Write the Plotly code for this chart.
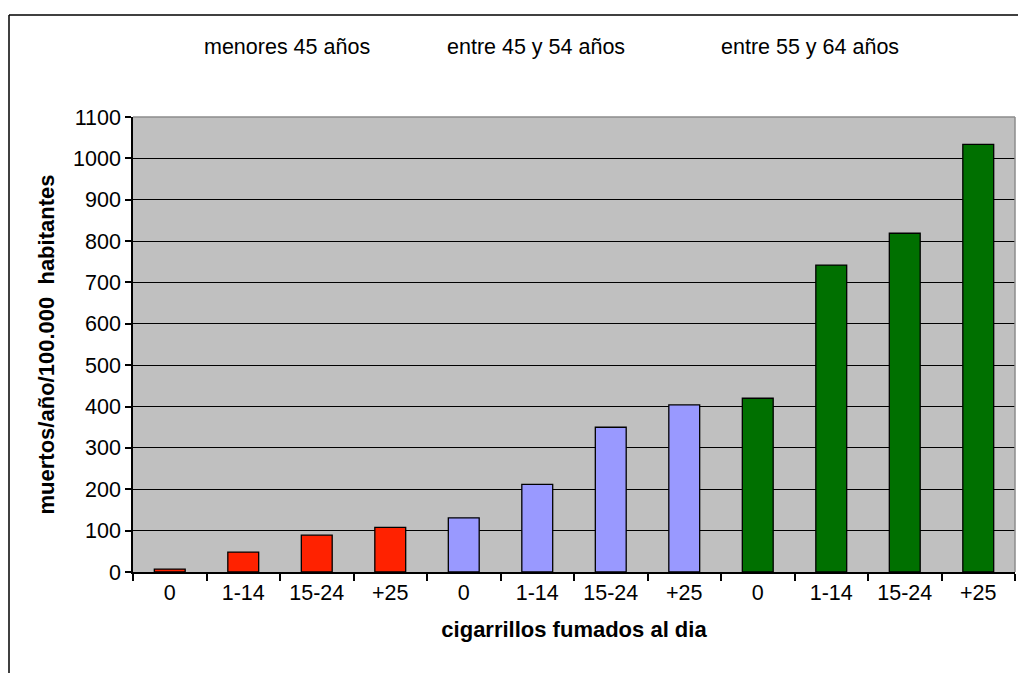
import plotly.graph_objects as go

categories = ["0", "1-14", "15-24", "+25", "0", "1-14", "15-24", "+25", "0", "1-14", "15-24", "+25"]
menores45 = [7, 48, 89, 108]
entre45_54 = [131, 212, 350, 404]
entre55_64 = [420, 742, 819, 1034]
group_labels = ["menores 45 años", "entre 45 y 54 años", "entre 55 y 64 años"]
y_ticks = list(range(0, 1101, 100))

W, H = 1018, 673
L, R, T, B = 133, 3, 117, 101
pw, ph = W - L - R, H - T - B

def px_x(x):
    return (x - L) / pw

def px_y(y):
    return (H - B - y) / ph

values = menores45 + entre45_54 + entre55_64
colors = ["#FF2200"] * 4 + ["#9999FF"] * 4 + ["#007000"] * 4
xpos = list(range(len(categories)))

fig = go.Figure()
fig.add_trace(go.Bar(
    x=xpos, y=values,
    marker=dict(color=colors, line=dict(color="#000000", width=1.3)),
    width=0.42, showlegend=False,
))

font = "Liberation Sans, Arial, sans-serif"
fs = 21.5
fsb = 22
fig.update_layout(
    width=W, height=H,
    margin=dict(l=L, r=R, t=T, b=B, pad=0),
    paper_bgcolor="white", plot_bgcolor="#C0C0C0",
    font=dict(family=font, size=fs, color="#000000"),
    xaxis=dict(
        range=[-0.5, 11.5], tickmode="array", tickvals=xpos, ticktext=categories,
        ticks="", showgrid=False, zeroline=False,
        showline=True, linecolor="#000000", linewidth=1.5,
        tickfont=dict(size=fs),
        minor=dict(tickmode="array", tickvals=[i - 0.5 for i in range(13)],
                   ticks="outside", ticklen=7, tickwidth=1.5, tickcolor="#000000", showgrid=False),
        title=dict(text="<b>cigarrillos fumados al dia</b>", font=dict(size=fsb), standoff=18),
    ),
    yaxis=dict(
        range=[0, 1100], tickmode="array", tickvals=y_ticks,
        ticks="outside", ticklen=6, tickwidth=1.5, tickcolor="#000000",
        showgrid=True, gridcolor="#000000", gridwidth=1.3,
        zeroline=False, showline=True, linecolor="#000000", linewidth=1.5,
        tickfont=dict(size=fs),
        title=dict(text="<b>muertos/año/100.000  habitantes</b>", font=dict(size=fsb), standoff=12),
    ),
    bargap=0.58,
)

# gray top/right plot border
fig.add_shape(type="line", xref="paper", yref="paper", x0=0, x1=1, y0=1, y1=1,
              line=dict(color="#8C8C8C", width=1.5))
fig.add_shape(type="line", xref="paper", yref="paper", x0=1, x1=1, y0=0, y1=1,
              line=dict(color="#8C8C8C", width=1.5))
# outer chart frame (top and left)
fig.add_shape(type="line", xref="paper", yref="paper", x0=px_x(9), x1=px_x(W + 5),
              y0=px_y(15), y1=px_y(15), line=dict(color="#000000", width=1.5))
fig.add_shape(type="line", xref="paper", yref="paper", x0=px_x(9), x1=px_x(9),
              y0=px_y(15), y1=px_y(H + 5), line=dict(color="#000000", width=1.5))

label_centers = [287, 536, 810]
for txt, cx in zip(group_labels, label_centers):
    fig.add_annotation(text=txt, xref="paper", yref="paper", x=px_x(cx), y=px_y(47),
                       showarrow=False, xanchor="center", yanchor="middle",
                       font=dict(size=fs, color="#000000"))

fig.write_html(
    "out.html",
    config={"displayModeBar": False},
    post_script="document.body.style.margin='0';document.body.style.overflow='hidden';",
)
